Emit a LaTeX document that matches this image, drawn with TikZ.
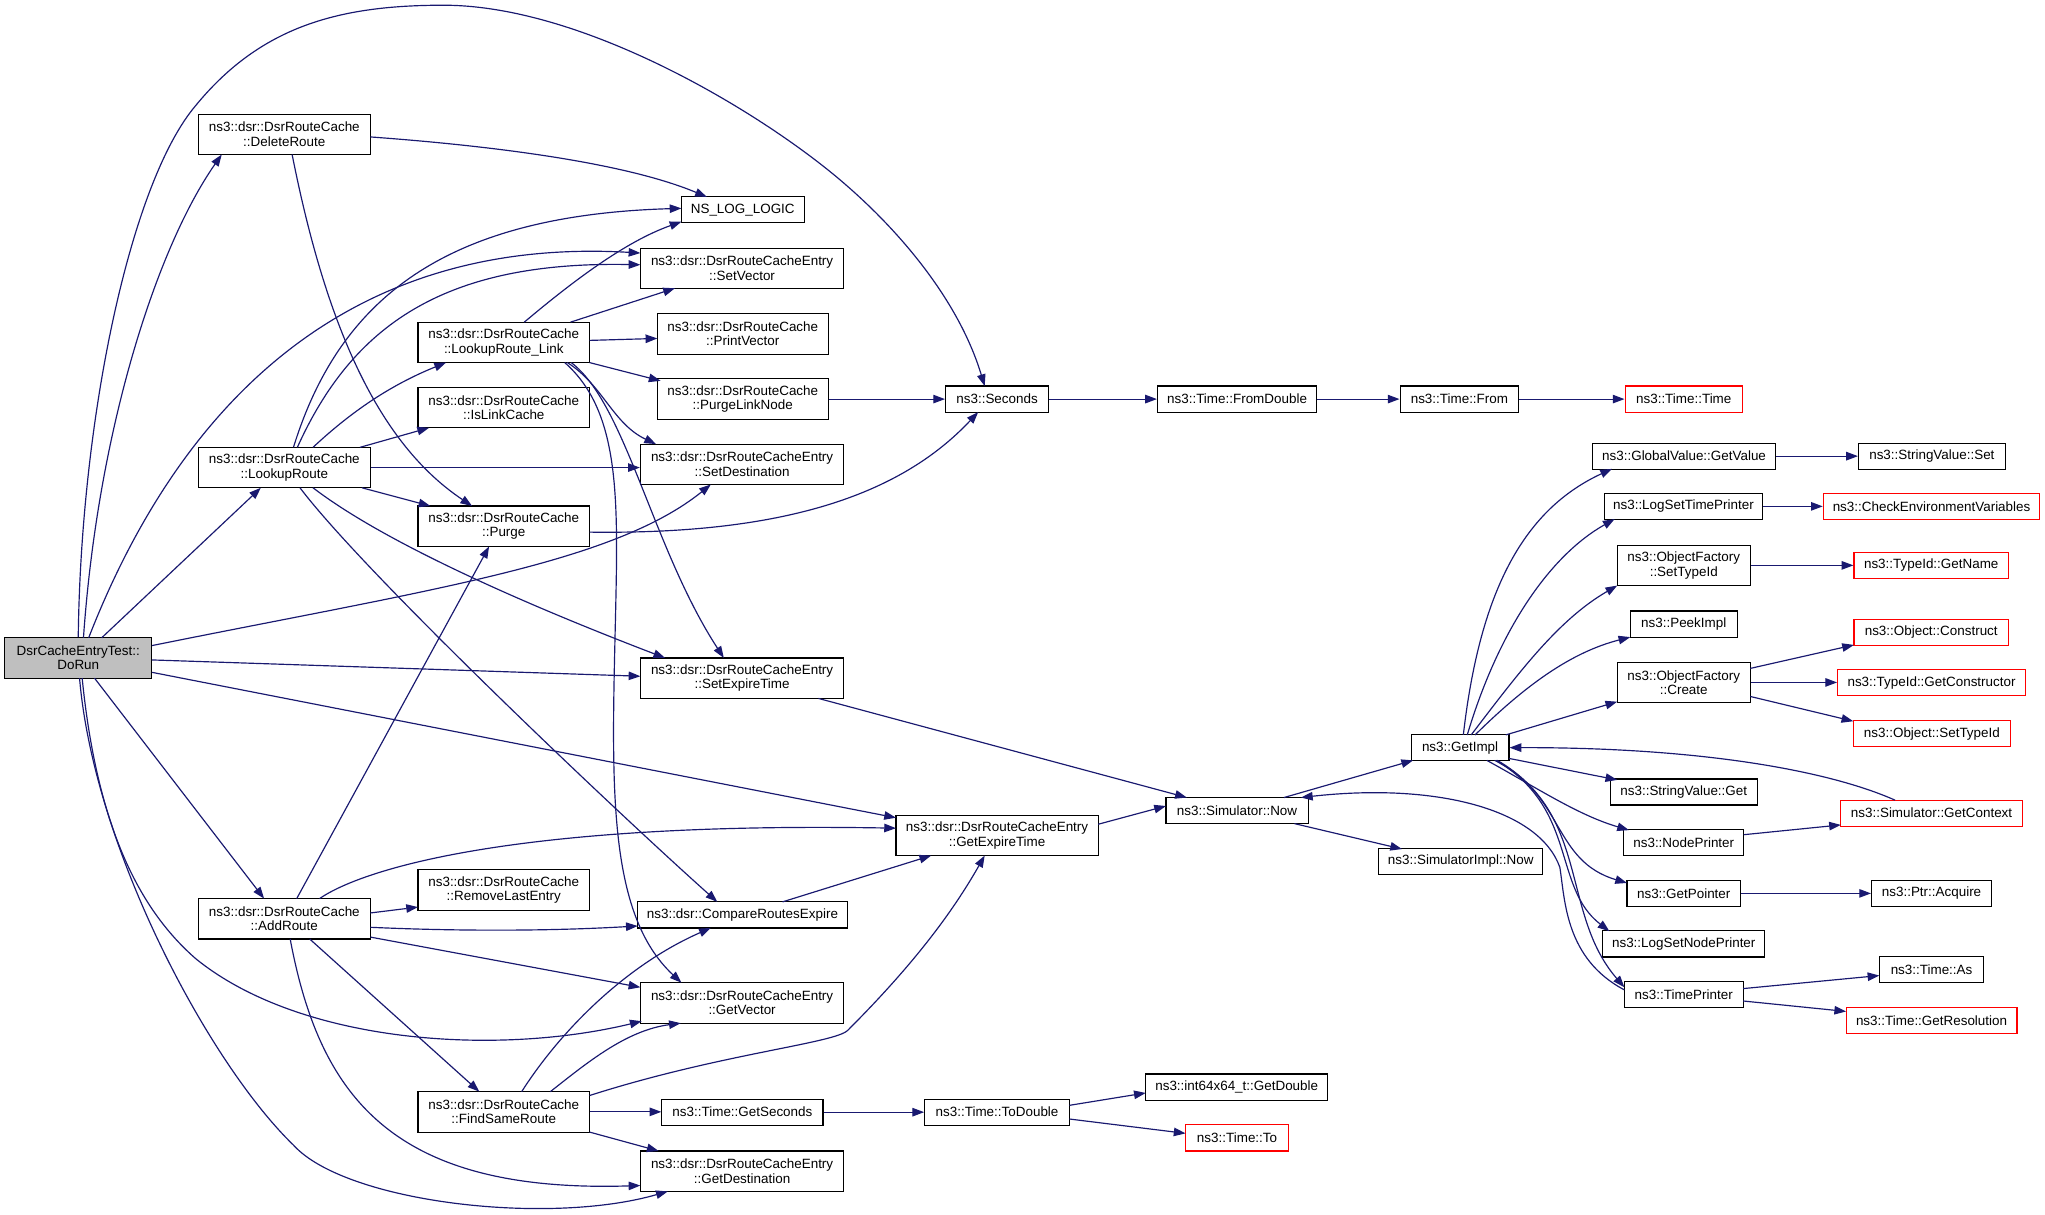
\documentclass[tikz,border=0pt]{standalone}
\usepackage{fontspec}
\setmainfont{Liberation Sans}
\usetikzlibrary{arrows.meta,calc}
\definecolor{edgeblue}{HTML}{191970}
\definecolor{grayfill}{HTML}{BFBFBF}
\tikzset{
  fnode/.style={draw=black, line width=0.85pt, fill=white, inner sep=0pt, align=center,
    font=\fontsize{10.3}{11}\selectfont},
  rnode/.style={fnode, draw=red},
  one/.style={minimum height=20},
  two/.style={minimum height=31},
  cedge/.style={draw=edgeblue, line width=0.9pt, -{Triangle[length=9pt,width=6.5pt]}},
}
\begin{document}
\begin{tikzpicture}[x=1pt,y=-1pt]
\useasboundingbox[fill=white] (0,0) rectangle (1568,931);
% ---- nodes ----
\node[fnode,two,fill=grayfill,minimum width=113] (DoRun) at (60,504.5) {DsrCacheEntryTest::\\DoRun};
\node[fnode,two,minimum width=132] (DeleteRoute) at (218,103) {ns3::dsr::DsrRouteCache\\::DeleteRoute};
\node[fnode,two,minimum width=132] (LookupRoute) at (218,358.5) {ns3::dsr::DsrRouteCache\\::LookupRoute};
\node[fnode,two,minimum width=132] (AddRoute) at (218,704.5) {ns3::dsr::DsrRouteCache\\::AddRoute};
\node[fnode,two,minimum width=131.5] (LRL) at (386.25,262.5) {ns3::dsr::DsrRouteCache\\::LookupRoute\_Link};
\node[fnode,two,minimum width=131.5] (IsLinkCache) at (386.25,312.5) {ns3::dsr::DsrRouteCache\\::IsLinkCache};
\node[fnode,two,minimum width=131.5] (Purge) at (386.25,403.5) {ns3::dsr::DsrRouteCache\\::Purge};
\node[fnode,two,minimum width=131.5] (RLE) at (386.25,682.5) {ns3::dsr::DsrRouteCache\\::RemoveLastEntry};
\node[fnode,two,minimum width=131.5] (FSR) at (386.25,852.5) {ns3::dsr::DsrRouteCache\\::FindSameRoute};
\node[fnode,one,minimum width=94] (NSLOG) at (569.5,160.75) {NS\_LOG\_LOGIC};
\node[fnode,two,minimum width=156] (SetVector) at (569,205.75) {ns3::dsr::DsrRouteCacheEntry\\::SetVector};
\node[fnode,two,minimum width=131] (PrintVector) at (569.5,256) {ns3::dsr::DsrRouteCache\\::PrintVector};
\node[fnode,two,minimum width=131] (PurgeLinkNode) at (569.5,306) {ns3::dsr::DsrRouteCache\\::PurgeLinkNode};
\node[fnode,two,minimum width=156] (SetDestination) at (569,356) {ns3::dsr::DsrRouteCacheEntry\\::SetDestination};
\node[fnode,two,minimum width=156] (SetExpireTime) at (569,520) {ns3::dsr::DsrRouteCacheEntry\\::SetExpireTime};
\node[fnode,one,minimum width=160.5] (CRE) at (569.25,701.5) {ns3::dsr::CompareRoutesExpire};
\node[fnode,two,minimum width=156] (GetVector) at (569,769) {ns3::dsr::DsrRouteCacheEntry\\::GetVector};
\node[fnode,one,minimum width=123.5] (GetSeconds) at (569.25,852.75) {ns3::Time::GetSeconds};
\node[fnode,two,minimum width=156] (GetDestination) at (569,898) {ns3::dsr::DsrRouteCacheEntry\\::GetDestination};
\node[fnode,one,minimum width=79] (Seconds) at (764.5,306) {ns3::Seconds};
\node[fnode,one,minimum width=122] (FromDouble) at (948.5,306) {ns3::Time::FromDouble};
\node[fnode,one,minimum width=91] (From) at (1119,306) {ns3::Time::From};
\node[rnode,one,minimum width=90] (TimeTime) at (1291,306) {ns3::Time::Time};
\node[fnode,two,minimum width=155] (GetExpireTime) at (764.5,640.5) {ns3::dsr::DsrRouteCacheEntry\\::GetExpireTime};
\node[fnode,one,minimum width=109] (SimNow) at (948.5,621.5) {ns3::Simulator::Now};
\node[fnode,one,minimum width=126] (SimImplNow) at (1120,660.5) {ns3::SimulatorImpl::Now};
\node[fnode,one,minimum width=111] (ToDouble) at (764.5,852.75) {ns3::Time::ToDouble};
\node[fnode,one,minimum width=139.5] (GetDouble) at (948.25,833.5) {ns3::int64x64\_t::GetDouble};
\node[rnode,one,minimum width=79] (TimeTo) at (948.5,872.5) {ns3::Time::To};
\node[fnode,one,minimum width=75] (GetImpl) at (1119.5,573.25) {ns3::GetImpl};
\node[fnode,one,minimum width=140.5] (GetValue) at (1291.25,349.75) {ns3::GlobalValue::GetValue};
\node[fnode,one,minimum width=112.5] (SVSet) at (1481.25,349.75) {ns3::StringValue::Set};
\node[fnode,one,minimum width=121.5] (LSTP) at (1290.75,388.25) {ns3::LogSetTimePrinter};
\node[rnode,one,minimum width=166] (CheckEnv) at (1481,388.25) {ns3::CheckEnvironmentVariables};
\node[fnode,two,minimum width=102] (OFST) at (1291,433.5) {ns3::ObjectFactory\\::SetTypeId};
\node[rnode,one,minimum width=118.5] (GetName) at (1480.75,433.5) {ns3::TypeId::GetName};
\node[fnode,one,minimum width=82] (PeekImpl) at (1291,478.5) {ns3::PeekImpl};
\node[rnode,one,minimum width=118.5] (Construct) at (1480.75,484.75) {ns3::Object::Construct};
\node[fnode,two,minimum width=102] (Create) at (1291,523.25) {ns3::ObjectFactory\\::Create};
\node[rnode,one,minimum width=144] (GetConstructor) at (1481,523.5) {ns3::TypeId::GetConstructor};
\node[rnode,one,minimum width=120.5] (ObjSetTypeId) at (1481.25,562.5) {ns3::Object::SetTypeId};
\node[fnode,one,minimum width=113] (SVGet) at (1291,607.25) {ns3::StringValue::Get};
\node[rnode,one,minimum width=139] (GetContext) at (1481,623.5) {ns3::Simulator::GetContext};
\node[fnode,one,minimum width=92] (NodePrinter) at (1291,646.25) {ns3::NodePrinter};
\node[fnode,one,minimum width=87] (GetPointer) at (1291,685) {ns3::GetPointer};
\node[fnode,one,minimum width=92] (Acquire) at (1481,685) {ns3::Ptr::Acquire};
\node[fnode,one,minimum width=124] (LSNP) at (1291,723.75) {ns3::LogSetNodePrinter};
\node[fnode,one,minimum width=80] (TimeAs) at (1481,743.25) {ns3::Time::As};
\node[fnode,one,minimum width=91] (TimePrinter) at (1291,762.75) {ns3::TimePrinter};
\node[rnode,one,minimum width=131] (GetResolution) at (1481,782.5) {ns3::Time::GetResolution};
% ---- edges from DoRun ----
\draw[cedge] (DoRun.north) .. controls (62,320) and (100,140) .. (150,81)
  .. controls (200,20) and (260,4) .. (340,4)
  .. controls (450,4) and (590,90) .. (650,143)
  .. controls (690,178) and (735,230) .. ($(Seconds)+(-9.5,-10)$);
\draw[cedge] ($(DoRun)+(4,-15.5)$) .. controls (75,330) and (120,190) .. ($(DeleteRoute)+(-48,15.5)$);
\draw[cedge] ($(DoRun)+(8,-15.5)$) .. controls (130,330) and (250,180) .. ($(SetVector)+(-78,-11.75)$);
\draw[cedge] ($(DoRun)+(18,-15.5)$) -- ($(LookupRoute)+(-18,15.5)$);
\draw[cedge] ($(DoRun)+(56.5,-9.5)$) .. controls (330,452) and (470,432) .. ($(SetDestination)+(-24,15.5)$);
\draw[cedge] ($(DoRun)+(56.5,1.5)$) -- ($(SetExpireTime)+(-78,-1.5)$);
\draw[cedge] ($(DoRun)+(56.5,11)$) -- ($(GetExpireTime)+(-77.5,-13.5)$);
\draw[cedge] ($(DoRun)+(12.5,15.5)$) -- ($(AddRoute)+(-15.5,-15.5)$);
\draw[cedge] ($(DoRun)+(3,15.5)$) .. controls (75,640) and (110,700) .. (150,735)
  .. controls (230,800) and (380,810) .. ($(GetVector)+(-77,14)$);
\draw[cedge] ($(DoRun)+(1,15.5)$) .. controls (72,650) and (160,815) .. (225,878)
  .. controls (265,922) and (420,940) .. ($(GetDestination)+(-57,15.5)$);
% ---- DeleteRoute ----
\draw[cedge] ($(DeleteRoute)+(66,2)$) .. controls (380,112) and (480,125) .. ($(NSLOG)+(-27.5,-9.75)$);
\draw[cedge] ($(DeleteRoute)+(6,15.5)$) .. controls (250,250) and (290,340) .. ($(Purge)+(-24.25,-15.5)$);
% ---- LookupRoute ----
\draw[cedge] ($(LookupRoute)+(7,-15.5)$) .. controls (260,230) and (340,165) .. ($(NSLOG)+(-47,-1)$);
\draw[cedge] ($(LookupRoute)+(10,-15.5)$) .. controls (270,250) and (340,200) .. ($(SetVector)+(-78,-2.75)$);
\draw[cedge] ($(LookupRoute)+(22,-15.5)$) .. controls (270,315) and (300,295) .. ($(LRL)+(-44.25,15.5)$);
\draw[cedge] ($(LookupRoute)+(58,-15.5)$) -- ($(IsLinkCache)+(-57.25,15.5)$);
\draw[cedge] (LookupRoute.east) -- (LookupRoute.east -| SetDestination.west);
\draw[cedge] ($(LookupRoute)+(59.5,15.5)$) -- ($(Purge)+(-56.25,-15.5)$);
\draw[cedge] ($(LookupRoute)+(12,15.5)$) .. controls (280,440) and (470,620) .. ($(CRE)+(-19.25,-10)$);
\draw[cedge] ($(LookupRoute)+(22,15.5)$) .. controls (300,420) and (420,470) .. ($(SetExpireTime)+(-59,-15.5)$);
% ---- LookupRoute_Link ----
\draw[cedge] ($(LRL)+(15.75,-15.5)$) .. controls (440,215) and (480,185) .. ($(NSLOG)+(-47,9.25)$);
\draw[cedge] ($(LRL)+(51.25,-15.5)$) -- ($(SetVector)+(-51.5,15.25)$);
\draw[cedge] ($(LRL)+(65.75,-1.5)$) -- ($(PrintVector)+(-65.5,3.5)$);
\draw[cedge] ($(LRL)+(65.75,15.5)$) -- ($(PurgeLinkNode)+(-63,-14)$);
\draw[cedge] ($(LRL)+(48.75,15.5)$) .. controls (462,295) and (470,325) .. ($(SetDestination)+(-66,-15.5)$);
\draw[cedge] ($(LRL)+(51.75,15.5)$) .. controls (480,310) and (500,420) .. ($(SetExpireTime)+(-14,-15.5)$);
\draw[cedge] ($(LRL)+(46.75,15.5)$) .. controls (475,315) and (474,380) .. (472,470)
  .. controls (469,600) and (465,700) .. ($(GetVector)+(-46.5,-15.5)$);
% ---- to Seconds ----
\draw[cedge] ($(Purge)+(65.75,4.5)$) .. controls (600,410) and (690,380) .. ($(Seconds)+(-14.5,10)$);
\draw[cedge] (PurgeLinkNode.east) -- (Seconds.west);
\draw[cedge] (Seconds.east) -- (FromDouble.west);
\draw[cedge] (FromDouble.east) -- (From.west);
\draw[cedge] (From.east) -- (TimeTime.west);
% ---- AddRoute ----
\draw[cedge] ($(AddRoute)+(9.5,-15.5)$) -- ($(Purge)+(-11.25,15.5)$);
\draw[cedge] ($(AddRoute)+(27,-15.5)$) .. controls (280,665) and (400,630) .. ($(GetExpireTime)+(-77.5,-5.5)$);
\draw[cedge] ($(AddRoute)+(66,-4.5)$) -- ($(RLE)+(-65.75,13)$);
\draw[cedge] ($(AddRoute)+(66,6.5)$) .. controls (350,714) and (420,714) .. ($(CRE)+(-80.25,8.5)$);
\draw[cedge] ($(AddRoute)+(66,14)$) -- ($(GetVector)+(-78,-12)$);
\draw[cedge] ($(AddRoute)+(19.5,15.5)$) -- ($(FSR)+(-18.75,-15.5)$);
\draw[cedge] ($(AddRoute)+(4.5,15.5)$) .. controls (245,840) and (300,915) .. ($(GetDestination)+(-78,11)$);
% ---- FindSameRoute ----
\draw[cedge] ($(FSR)+(13.75,-15.5)$) .. controls (430,790) and (480,740) .. ($(CRE)+(-24.25,10)$);
\draw[cedge] ($(FSR)+(35.75,-15.5)$) .. controls (450,815) and (480,790) .. ($(GetVector)+(-47,15.5)$);
\draw[cedge] ($(FSR)+(65.75,-12.5)$) .. controls (552,808) and (640,800) .. (650,790)
  .. controls (700,740) and (730,700) .. ($(GetExpireTime)+(-9.5,15.5)$);
\draw[cedge] (FSR.east) -- (FSR.east -| GetSeconds.west);
\draw[cedge] ($(FSR)+(65.75,15.5)$) -- ($(GetDestination)+(-64,-15.5)$);
% ---- middle ----
\draw[cedge] ($(CRE)+(30.75,-10)$) -- ($(GetExpireTime)+(-50.5,15.5)$);
\draw[cedge] (GetSeconds.east) -- (GetSeconds.east -| ToDouble.west);
\draw[cedge] ($(ToDouble)+(55.5,-5.25)$) -- ($(GetDouble)+(-69.75,4.5)$);
\draw[cedge] ($(ToDouble)+(55.5,5.25)$) -- ($(TimeTo)+(-39.5,-3.5)$);
\draw[cedge] ($(SetExpireTime)+(58.5,15.5)$) -- ($(SimNow)+(-38.5,-10)$);
\draw[cedge] ($(GetExpireTime)+(77.5,-8.5)$) -- ($(SimNow)+(-54.5,-3.5)$);
\draw[cedge] ($(SimNow)+(36,-10)$) -- ($(GetImpl)+(-36,9.75)$);
\draw[cedge] ($(SimNow)+(44,10)$) -- ($(SimImplNow)+(-45,-9.5)$);
\draw[cedge] ($(TimePrinter)+(-45.5,-3.75)$) .. controls (1200,735) and (1200,690) .. (1196,665)
  .. controls (1180,620) and (1100,600) .. ($(SimNow)+(49,-10)$);
% ---- GetImpl ----
\draw[cedge] ($(GetImpl)+(2.5,-9.75)$) .. controls (1135,450) and (1170,390) .. ($(GetValue)+(-55.25,9.75)$);
\draw[cedge] ($(GetImpl)+(5.5,-9.75)$) .. controls (1150,480) and (1190,425) .. ($(LSTP)+(-52.75,9.75)$);
\draw[cedge] ($(GetImpl)+(8.5,-9.75)$) .. controls (1165,515) and (1195,475) .. ($(OFST)+(-51,15.5)$);
\draw[cedge] ($(GetImpl)+(11.5,-9.75)$) .. controls (1170,525) and (1205,500) .. ($(PeekImpl)+(-41,10)$);
\draw[cedge] ($(GetImpl)+(35,-9.75)$) -- ($(Create)+(-51,14.75)$);
\draw[cedge] ($(GetContext)+(-28,-10)$) .. controls (1400,590) and (1300,573) .. (GetImpl.east);
\draw[cedge] ($(GetImpl)+(37.5,8.25)$) -- ($(SVGet)+(-51,-9.25)$);
\draw[cedge] ($(GetImpl)+(20.5,9.75)$) .. controls (1180,605) and (1210,625) .. ($(NodePrinter)+(-42,-9.75)$);
\draw[cedge] ($(GetImpl)+(26.5,9.75)$) .. controls (1200,610) and (1190,660) .. ($(GetPointer)+(-43.5,-8)$);
\draw[cedge] ($(GetImpl)+(27.5,9.75)$) .. controls (1210,620) and (1190,680) .. ($(LSNP)+(-57,-9.75)$);
\draw[cedge] ($(GetImpl)+(28.5,9.75)$) .. controls (1220,625) and (1196,700) .. ($(TimePrinter)+(-45.5,-5.75)$);
% ---- right column ----
\draw[cedge] (GetValue.east) -- (SVSet.west);
\draw[cedge] (LSTP.east) -- (CheckEnv.west);
\draw[cedge] (OFST.east) -- (GetName.west);
\draw[cedge] ($(Create)+(51,-10.75)$) -- ($(Construct)+(-59.25,9.75)$);
\draw[cedge] (Create.east) -- (Create.east -| GetConstructor.west);
\draw[cedge] ($(Create)+(51,10.75)$) -- ($(ObjSetTypeId)+(-60.25,-9.5)$);
\draw[cedge] ($(NodePrinter)+(46,-6.25)$) -- ($(GetContext)+(-69.5,9)$);
\draw[cedge] (GetPointer.east) -- (Acquire.west);
\draw[cedge] ($(TimePrinter)+(45.5,-4.75)$) -- ($(TimeAs)+(-40,4.75)$);
\draw[cedge] ($(TimePrinter)+(45.5,4.75)$) -- ($(GetResolution)+(-65.5,-7)$);
\end{tikzpicture}
\end{document}
